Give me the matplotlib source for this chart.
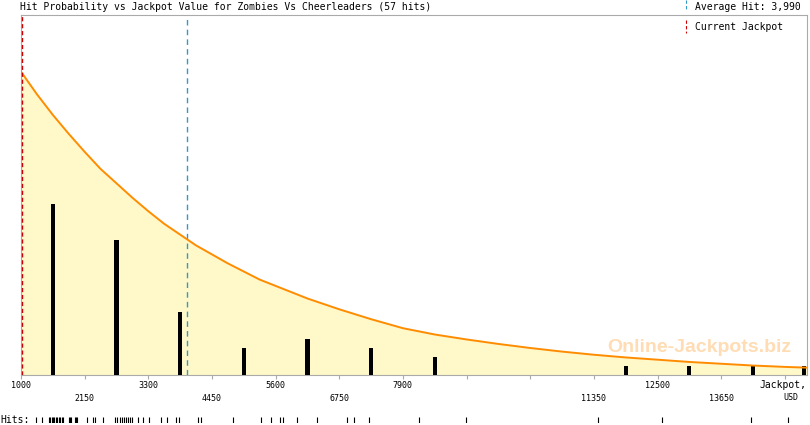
import matplotlib
matplotlib.use('Agg')
import matplotlib.pyplot as plt

# hit probability chart, jackpot values in USD
title = 'Hit Probability vs Jackpot Value for Zombies Vs Cheerleaders (57 hits)'
avg_hit = 3990
current_jackpot = 1010

bar_x = [1575, 2725, 3875, 5025, 6175, 7325, 8475, 11925, 13075, 14225, 15150]
bar_counts = [19, 15, 7, 3, 4, 3, 2, 1, 1, 1, 1]

curve_x = [1000, 1287, 1575, 1862, 2150, 2437, 2725, 3012, 3300, 3587, 3875,
           4162, 4450, 4737, 5025, 5312, 5600, 6175, 6750,
           7325, 7900, 8475, 9050, 9625, 10200, 10775, 11350, 11925, 12500,
           13075, 13650, 14225, 14800, 15375]
curve_y = [33.7, 31.2, 28.9, 26.8, 24.8, 22.9, 21.3, 19.7, 18.2, 16.8, 15.6,
           14.4, 13.4, 12.4, 11.5, 10.6, 9.9, 8.5, 7.3,
           6.2, 5.2, 4.5, 3.95, 3.45, 3.0, 2.6, 2.25, 1.95, 1.7,
           1.45, 1.25, 1.05, 0.9, 0.78]

hits = [1276, 1384, 1511, 1529, 1565, 1583, 1601, 1637, 1655, 1691, 1709,
        1745, 1764, 1872, 1890, 1908, 1980, 1998, 2016,
        2197, 2305, 2341, 2486, 2702, 2738, 2792, 2829, 2865, 2901, 2937,
        2973, 3009, 3117, 3208,
        3310, 3527, 3646, 3803, 3863, 4195, 4260,
        4827, 5332, 5523, 5675, 5729, 5993, 6348, 6895, 7021, 7292,
        8189, 9040, 11426, 12581, 14182, 14855]

tick_vals = [1000, 2150, 3300, 4450, 5600, 6750, 7900, 9050, 10200, 11350,
             12500, 13650, 14800]
labels_row1 = ['1000', '3300', '5600', '7900', '12500']
labels_row2 = ['2150', '4450', '6750', '11350', '13650']

W, H = 810, 425
mono = 'DejaVu Sans Mono'
grey = '#aaaaaa'

fig = plt.figure(figsize=(W / 100, H / 100), dpi=100)
ax = fig.add_axes([21 / W, 50 / H, 786 / W, 360 / H])
ax.set_xlim(1000, 15200)
ax.set_ylim(0, 40)

ax.fill_between(curve_x, curve_y, 0, color='#fff8c8', lw=0, zorder=1)
ax.plot(curve_x, curve_y, color='#ff8c00', lw=1.4, zorder=4)
ax.bar(bar_x, bar_counts, width=75, color='black', zorder=3)
ax.axvline(avg_hit, color='#3399cc', lw=1, ls=(0, (4, 3)), zorder=2)
ax.axvline(current_jackpot, color='#cc0000', lw=1, ls=(0, (3, 2)), zorder=5)

ax.text(0.863, 0.075, 'Online-Jackpots.biz', transform=ax.transAxes,
        ha='center', va='center', fontsize=14, fontweight='bold',
        family='Liberation Sans', color='#ffdcb4', zorder=2)

for s in ax.spines.values():
    s.set_color(grey)
    s.set_linewidth(0.8)
ax.set_yticks([])
ax.set_xticks(tick_vals)
ax.set_xticklabels([])
ax.tick_params(axis='x', direction='out', length=3, width=0.8, color=grey)

trans = ax.get_xaxis_transform()
for lab in labels_row1:
    ax.text(int(lab), -0.028, lab, transform=trans, ha='center', va='center',
            fontsize=6, family=mono)
for lab in labels_row2:
    ax.text(int(lab), -0.064, lab, transform=trans, ha='center', va='center',
            fontsize=6, family=mono)
fig.text(783 / W, 1 - 385 / H, 'Jackpot,', ha='center', va='center',
         fontsize=7, family=mono)
fig.text(791 / W, 1 - 398 / H, 'USD', ha='center', va='center',
         fontsize=6, family=mono)

# title and legend
fig.text(20 / W, 1 - 7 / H, title, ha='left', va='center', fontsize=7, family=mono)
fig.add_artist(plt.Line2D([686 / W, 686 / W], [1 - 0 / H, 1 - 10 / H],
                          color='#3399cc', lw=0.8, ls=(0, (3, 2))))
fig.add_artist(plt.Line2D([686 / W, 686 / W], [1 - 20 / H, 1 - 33 / H],
                          color='#cc0000', lw=0.8, ls=(0, (3, 2))))
fig.text(695 / W, 1 - 7 / H, 'Average Hit: 3,990', ha='left', va='center',
         fontsize=7, family=mono)
fig.text(695 / W, 1 - 27 / H, 'Current Jackpot', ha='left', va='center',
         fontsize=7, family=mono)

# hits strip
ax2 = fig.add_axes([21 / W, 2 / H, 786 / W, 6 / H])
ax2.set_xlim(1000, 15200)
ax2.set_ylim(0, 1)
ax2.vlines(hits, 0, 1, color='black', lw=0.8)
ax2.axis('off')
fig.text(0, 1 - 420 / H, 'Hits:', ha='left', va='center', fontsize=7, family=mono)

fig.savefig('out.png', dpi=100)
